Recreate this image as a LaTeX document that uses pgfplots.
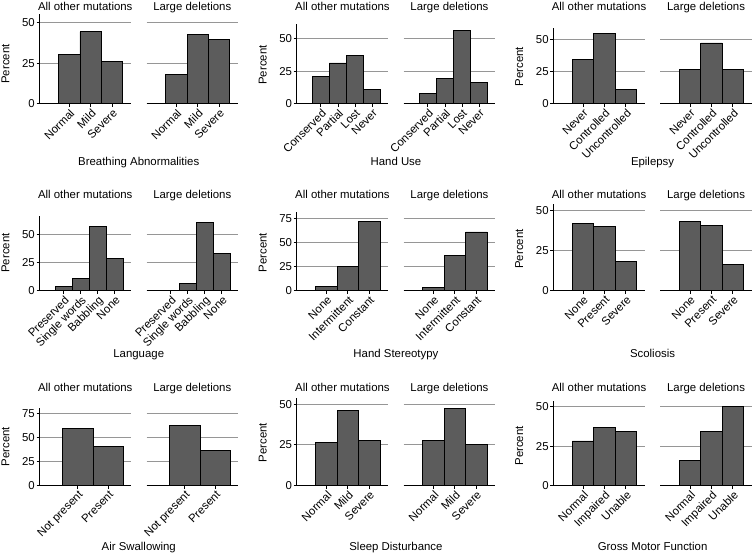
\documentclass[border=0pt]{standalone}
\usepackage{fontspec}
\setmainfont{Liberation Sans}
\usepackage{pgfplots}
\pgfplotsset{compat=1.18}
\definecolor{barfill}{RGB}{92,92,92}
\definecolor{gridgray}{RGB}{150,150,150}
\newcommand\lf{\fontsize{11.4}{13}\selectfont}
\pgfplotsset{
  panel/.style={
    scale only axis, width=91.5pt, ymin=0,
    axis lines*=left,
    axis line style={line width=1.2pt, -},
    ymajorgrids, grid style={line width=1pt, gridgray},
    ytick={0,25,50,75},
    tick align=outside, major tick length=3pt,
    tick style={black, line width=1pt},
    every tick label/.append style={font=\lf},
    /pgf/number format/assume math mode=true,
    xtick={1,2,3,4},
    x tick label style={rotate=45, anchor=north east, inner sep=1pt},
    yticklabel style={inner sep=1.5pt},
    ybar, bar width=1,
    clip=false,
  },
  n2/.style={xmin=-0.26, xmax=2.74},
  n3/.style={xmin=-0.39, xmax=3.88},
  n4/.style={xmin=-0.42, xmax=4.94},
  rside/.style={y axis line style={draw=none}, ytick style={draw=none}, yticklabels={}},
  bars/.style={fill=barfill, draw=black, line width=0.9pt},
}
\begin{document}
\begin{tikzpicture}
\useasboundingbox (0,0) rectangle (752pt,555pt);
% ---------------- Row 1 ----------------
% Breathing Abnormalities
\begin{axis}[panel, n3, at={(39.5pt,451.2pt)}, anchor=south west, height=89.5pt, ymax=55,
  xticklabels={Normal,Mild,Severe}]
\addplot[bars] coordinates {(1,30.5) (2,44.2) (3,25.8)};
\end{axis}
\begin{axis}[panel, n3, rside, at={(146.5pt,451.2pt)}, anchor=south west, height=89.5pt, ymax=55,
  xticklabels={Normal,Mild,Severe}]
\addplot[bars] coordinates {(1,18.2) (2,42.4) (3,39.6)};
\end{axis}
% Hand Use
\begin{axis}[panel, n4, at={(296.7pt,451.2pt)}, anchor=south west, height=79.8pt, ymax=61,
  xticklabels={Conserved,Partial,Lost,Never}]
\addplot[bars] coordinates {(1,21) (2,31.2) (3,37) (4,11)};
\end{axis}
\begin{axis}[panel, n4, rside, at={(403.7pt,451.2pt)}, anchor=south west, height=79.8pt, ymax=61,
  xticklabels={Conserved,Partial,Lost,Never}]
\addplot[bars] coordinates {(1,8) (2,19.6) (3,56.2) (4,16.6)};
\end{axis}
% Epilepsy
\begin{axis}[panel, n3, at={(553.3pt,451.2pt)}, anchor=south west, height=75.7pt, ymax=58.5,
  xticklabels={Never,Controlled,Uncontrolled}]
\addplot[bars] coordinates {(1,34.3) (2,54.2) (3,11)};
\end{axis}
\begin{axis}[panel, n3, rside, at={(660.3pt,451.2pt)}, anchor=south west, height=75.7pt, ymax=58.5,
  xticklabels={Never,Controlled,Uncontrolled}]
\addplot[bars] coordinates {(1,26.5) (2,47) (3,26.5)};
\end{axis}
% ---------------- Row 2 ----------------
% Language
\begin{axis}[panel, n4, at={(39.5pt,264.5pt)}, anchor=south west, height=75pt, ymax=67,
  xticklabels={Preserved,Single words,Babbling,None}]
\addplot[bars] coordinates {(1,3.6) (2,10.7) (3,57) (4,28.7)};
\end{axis}
\begin{axis}[panel, n4, rside, at={(146.5pt,264.5pt)}, anchor=south west, height=75pt, ymax=67,
  xticklabels={Preserved,Single words,Babbling,None}]
\addplot[bars] coordinates {(1,0) (2,6) (3,61) (4,33.5)};
\end{axis}
% Hand Stereotypy
\begin{axis}[panel, n3, at={(296.7pt,264.5pt)}, anchor=south west, height=78.7pt, ymax=82,
  xticklabels={None,Intermittent,Constant}]
\addplot[bars] coordinates {(1,3.8) (2,25) (3,71.8)};
\end{axis}
\begin{axis}[panel, n3, rside, at={(403.7pt,264.5pt)}, anchor=south west, height=78.7pt, ymax=82,
  xticklabels={None,Intermittent,Constant}]
\addplot[bars] coordinates {(1,3) (2,36) (3,61)};
\end{axis}
% Scoliosis
\begin{axis}[panel, n3, at={(553.3pt,264.5pt)}, anchor=south west, height=86.4pt, ymax=54,
  xticklabels={None,Present,Severe}]
\addplot[bars] coordinates {(1,42) (2,40) (3,18)};
\end{axis}
\begin{axis}[panel, n3, rside, at={(660.3pt,264.5pt)}, anchor=south west, height=86.4pt, ymax=54,
  xticklabels={None,Present,Severe}]
\addplot[bars] coordinates {(1,43.3) (2,40.6) (3,16)};
\end{axis}
% ---------------- Row 3 ----------------
% Air Swallowing
\begin{axis}[panel, n2, at={(39.5pt,69.5pt)}, anchor=south west, height=77.4pt, ymax=81,
  xticklabels={Not present,Present}]
\addplot[bars] coordinates {(1,59.4) (2,40.6)};
\end{axis}
\begin{axis}[panel, n2, rside, at={(146.5pt,69.5pt)}, anchor=south west, height=77.4pt, ymax=81,
  xticklabels={Not present,Present}]
\addplot[bars] coordinates {(1,63) (2,37)};
\end{axis}
% Sleep Disturbance
\begin{axis}[panel, n3, at={(296.7pt,69.5pt)}, anchor=south west, height=87.9pt, ymax=54,
  xticklabels={Normal,Mild,Severe}]
\addplot[bars] coordinates {(1,26.4) (2,46) (3,27.6)};
\end{axis}
\begin{axis}[panel, n3, rside, at={(403.7pt,69.5pt)}, anchor=south west, height=87.9pt, ymax=54,
  xticklabels={Normal,Mild,Severe}]
\addplot[bars] coordinates {(1,27.8) (2,47.2) (3,25)};
\end{axis}
% Gross Motor Function
\begin{axis}[panel, n3, at={(553.3pt,69.5pt)}, anchor=south west, height=84.6pt, ymax=53.8,
  xticklabels={Normal,Impaired,Unable}]
\addplot[bars] coordinates {(1,28.3) (2,37.2) (3,34.5)};
\end{axis}
\begin{axis}[panel, n3, rside, at={(660.3pt,69.5pt)}, anchor=south west, height=84.6pt, ymax=53.8,
  xticklabels={Normal,Impaired,Unable}]
\addplot[bars] coordinates {(1,15.8) (2,34.2) (3,50)};
\end{axis}
% ---------------- Titles ----------------
\foreach \y in {544.3,356,163.3}{
  \foreach \x in {85.25,342.45,599.05}{
    \node[font=\lf, anchor=base] at (\x pt,\y pt) {All other mutations};
  }
  \foreach \x in {192.25,449.45,706.05}{
    \node[font=\lf, anchor=base] at (\x pt,\y pt) {Large deletions};
  }
}
% Panel labels
\node[font=\lf, anchor=base] at (138.75pt,389pt) {Breathing Abnormalities};
\node[font=\lf, anchor=base] at (395.95pt,389pt) {Hand Use};
\node[font=\lf, anchor=base] at (652.55pt,389pt) {Epilepsy};
\node[font=\lf, anchor=base] at (138.75pt,197.7pt) {Language};
\node[font=\lf, anchor=base] at (395.95pt,197.7pt) {Hand Stereotypy};
\node[font=\lf, anchor=base] at (652.55pt,197.7pt) {Scoliosis};
\node[font=\lf, anchor=base] at (138.75pt,5pt) {Air Swallowing};
\node[font=\lf, anchor=base] at (395.95pt,5pt) {Sleep Disturbance};
\node[font=\lf, anchor=base] at (652.55pt,5pt) {Gross Motor Function};
% Percent labels
\node[font=\lf, rotate=90] at (5.5pt,491pt) {Percent};
\node[font=\lf, rotate=90] at (262.7pt,490pt) {Percent};
\node[font=\lf, rotate=90] at (519.3pt,488.3pt) {Percent};
\node[font=\lf, rotate=90] at (5.5pt,302pt) {Percent};
\node[font=\lf, rotate=90] at (262.7pt,302.5pt) {Percent};
\node[font=\lf, rotate=90] at (519.3pt,306pt) {Percent};
\node[font=\lf, rotate=90] at (5.5pt,108.3pt) {Percent};
\node[font=\lf, rotate=90] at (262.7pt,112.5pt) {Percent};
\node[font=\lf, rotate=90] at (519.3pt,109.2pt) {Percent};
\end{tikzpicture}
\end{document}
